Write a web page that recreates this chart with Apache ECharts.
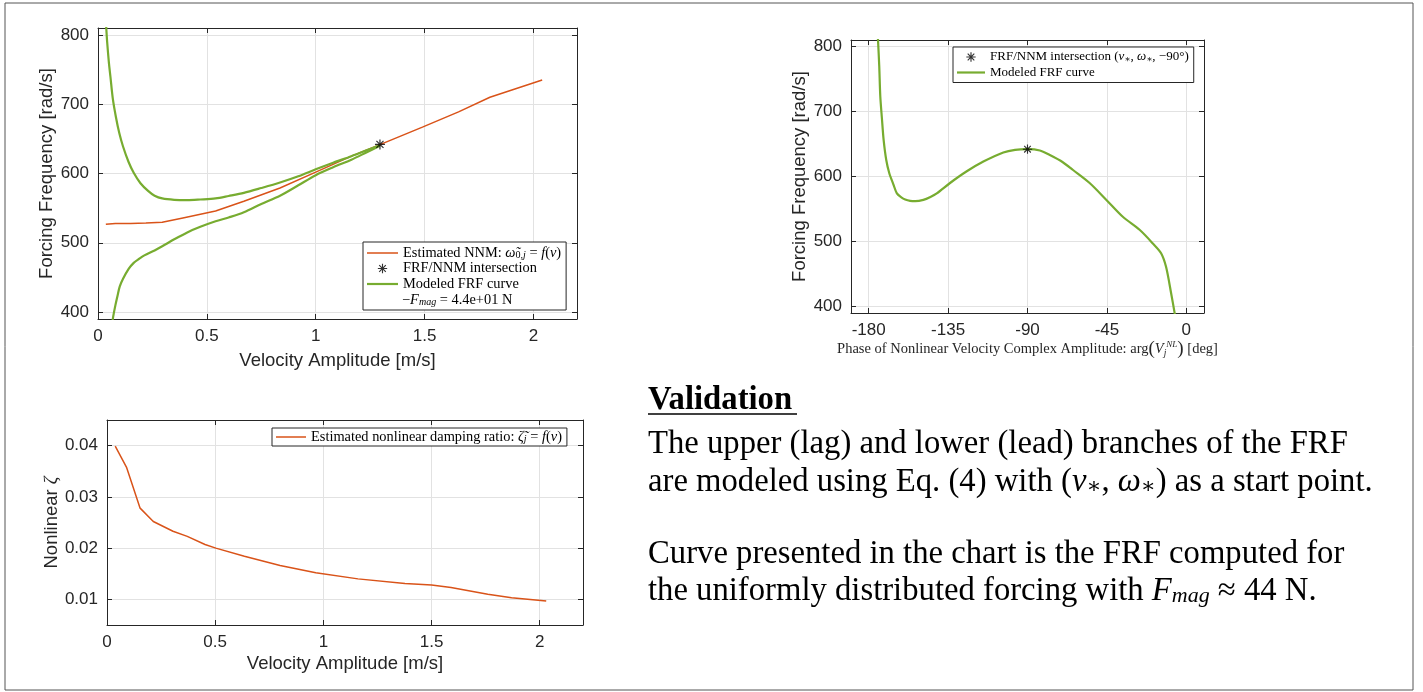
<!DOCTYPE html>
<html>
<head>
<meta charset="utf-8">
<script src="https://cdn.jsdelivr.net/npm/echarts@6/dist/echarts.min.js"></script>
<style>
  html, body { margin: 0; padding: 0; background: #fff; }
  #chart { width: 1423px; height: 692px; }
</style>
</head>
<body>
<div id="chart"></div>
<script>
// ---- Estimated NNM backbone: forcing frequency vs velocity amplitude ----
const nnmVelocity  = [0.036, 0.08, 0.15, 0.22, 0.295, 0.39, 0.54, 0.67, 0.836, 1.0, 1.164, 1.295, 1.49, 1.656, 1.8, 2.04];
const nnmFrequency = [526.6, 528, 528, 528.5, 529.6, 535.8, 545.8, 560, 579, 602, 625, 641.7, 667, 689, 710, 735];

// ---- Modeled FRF, upper (lag) branch ----
const frfUpperVelocity  = [0.034, 0.038, 0.042, 0.05, 0.057, 0.068, 0.082, 0.098, 0.115, 0.14, 0.164, 0.195, 0.23, 0.26, 0.295, 0.35, 0.41, 0.47, 0.54, 0.6, 0.67, 0.75, 0.836, 0.92, 1.0, 1.08, 1.164, 1.23, 1.295];
const frfUpperFrequency = [830, 810, 790, 760, 740, 708, 682, 658, 639, 617, 601, 586, 575, 568, 564, 562, 561.6, 562.5, 564, 567.5, 572, 579, 587, 596, 606, 615.5, 625, 633, 641];

// ---- Modeled FRF, lower (lead) branch ----
const frfLowerVelocity  = [0.064, 0.069, 0.08, 0.09, 0.1, 0.115, 0.14, 0.164, 0.19, 0.213, 0.26, 0.295, 0.35, 0.41, 0.47, 0.54, 0.6, 0.67, 0.75, 0.836, 0.92, 1.0, 1.08, 1.164, 1.23, 1.295];
const frfLowerFrequency = [380, 392, 410, 424, 437, 448, 462, 471, 477, 481.8, 489, 495, 505, 515, 523, 531, 536.5, 544, 556, 568, 583, 597.6, 609, 620, 630, 640];

// ---- FRF / NNM intersection point (v*, w*) ----
const crossVelocity  = [1.295];
const crossFrequency = [642];
const crossPhase     = [-90];

// ---- Modeled FRF against phase of the nonlinear velocity amplitude ----
const phaseDeg       = [-175.5, -174.7, -174, -173.4, -172.5, -171.5, -170, -168.3, -166, -164, -161.5, -159.3, -156.5, -153.6, -149, -145, -141.4, -133.9, -124.4, -115, -103.7, -97, -90, -83, -77.4, -70, -64.2, -54.8, -45.3, -36, -26.5, -19, -14.3, -11.5, -8.6, -6.7, -6];
const phaseFrequency = [850, 810, 770, 723, 690, 656, 625, 605, 588, 574, 568, 564.6, 562.5, 562, 564, 568.5, 574, 590, 608, 623, 637, 641, 642, 640, 633, 622, 610, 590, 564, 538, 518, 497, 482, 461, 420, 391, 380];

// ---- Estimated nonlinear damping ratio vs velocity amplitude ----
const dampVelocity = [0.038, 0.091, 0.153, 0.214, 0.305, 0.371, 0.453, 0.503, 0.635, 0.8, 0.965, 1.16, 1.377, 1.5, 1.59, 1.76, 1.87, 2.03];
const dampRatio    = [0.0399, 0.0357, 0.0278, 0.0252, 0.0233, 0.0223, 0.0207, 0.0200, 0.0184, 0.0166, 0.0152, 0.0140, 0.0131, 0.0128, 0.0123, 0.0110, 0.0103, 0.0097];

// ---- Tick labels ----
const velocityTicks  = [0, 0.5, 1, 1.5, 2];
const frequencyTicks = [400, 500, 600, 700, 800];
const phaseTicks     = [-180, -135, -90, -45, 0];
const dampTicks      = [0.01, 0.02, 0.03, 0.04];

// ---- Text block on the right ----
const noteTitle = 'Validation';
const noteLines = [
  'The upper (lag) and lower (lead) branches of the FRF',
  'are modeled using Eq. (4) with ({i|v}{u|∗}, {i|ω}{u|∗}) as a start point.',
  '',
  'Curve presented in the chart is the FRF computed for',
  'the uniformly distributed forcing with {i|F}{s|mag} ≈ 44 N.'
];

const RED = '#D95319';
const GREEN = '#77AC30';
const AX = '#262626';
const GRIDC = '#e2e2e2';
const SANS = '"Liberation Sans", Arial, Helvetica, sans-serif';
const SERIF = '"Liberation Serif", "DejaVu Serif", serif';

// MATLAB-style asterisk marker (padded so the arms fill ~2/3 of the symbol box)
const ASTERISK = 'path://M-15,-15M15,15' +
  'M-1.2,-10L1.2,-10L1.2,10L-1.2,10Z' +
  'M-10,-1.2L10,-1.2L10,1.2L-10,1.2Z' +
  'M-6.22,-7.92L7.92,6.22L6.22,7.92L-7.92,-6.22Z' +
  'M-7.92,6.22L6.22,-7.92L7.92,-6.22L-6.22,7.92Z';
// Plain line swatch for legend entries of line series (no marker)
const lineIcon = (w, t) => `path://M0,0M${w},14M0,${7 - t / 2}L${w},${7 - t / 2}L${w},${7 + t / 2}L0,${7 + t / 2}Z`;

const zip = (a, b) => a.map((v, k) => [v, b[k]]);

function mainAxis(gridIndex, position, min, max, ticks, name, nameGap, nameStyle) {
  return {
    type: 'value', gridIndex, position, min, max,
    axisLine: { show: true, onZero: false, lineStyle: { color: AX, width: 1 } },
    axisTick: { show: true, inside: true, length: 5, customValues: ticks, lineStyle: { color: AX, width: 1 } },
    axisLabel: { customValues: ticks, color: AX, fontSize: 17, fontFamily: SANS, margin: 9 },
    splitLine: { show: true, lineStyle: { color: GRIDC, width: 1 } },
    name, nameLocation: 'middle', nameGap,
    nameTextStyle: Object.assign({ color: AX, fontSize: 18.5, fontFamily: SANS }, nameStyle || {})
  };
}
function mirrorAxis(gridIndex, position, min, max, ticks) {
  return {
    type: 'value', gridIndex, position, min, max,
    axisLine: { show: true, onZero: false, lineStyle: { color: AX, width: 1 } },
    axisTick: { show: true, inside: true, length: 5, customValues: ticks, lineStyle: { color: AX, width: 1 } },
    axisLabel: { show: false, customValues: ticks },
    splitLine: { show: false }
  };
}

function mathRich(size) {
  return {
    i: { fontFamily: SERIF, fontStyle: 'italic', fontSize: size, color: '#000' },
    s: { fontFamily: SERIF, fontStyle: 'italic', fontSize: size * 0.7, lineHeight: 8, verticalAlign: 'bottom', color: '#000' },
    u: { fontFamily: SERIF, fontSize: size * 0.7, lineHeight: 8, verticalAlign: 'bottom', color: '#000' }
  };
}
const legendLabels = {
  'Estimated NNM': 'Estimated NNM: {i|ω̃}{u|0,}{s|j} = {i|f}({i|v})',
  'FRF/NNM intersection': 'FRF/NNM intersection',
  'Modeled FRF curve': 'Modeled FRF curve',
  'Intersection phase': 'FRF/NNM intersection ({i|v}{u|∗}, {i|ω}{u|∗}, −90°)',
  'Modeled FRF phase': 'Modeled FRF curve',
  'Estimated damping': 'Estimated nonlinear damping ratio: {i|ζ̃}{s|j} = {i|f}({i|v})'
};
function makeLegend(left, top, data, padding, itemWidth, fontSize) {
  return {
    orient: 'vertical', left, top, padding,
    data: data.map(d => d.line ? { name: d.name, icon: lineIcon(itemWidth, d.line) } : { name: d.name }),
    itemWidth, itemHeight: 14, itemGap: 1.5,
    backgroundColor: '#fff', borderColor: AX, borderWidth: 1, borderRadius: 0,
    selectedMode: false,
    formatter: name => legendLabels[name],
    textStyle: { fontFamily: SERIF, fontSize, color: '#000', lineHeight: 14, rich: mathRich(fontSize) }
  };
}

const bodyRich = {
  i: { fontFamily: SERIF, fontStyle: 'italic', fontSize: 32.7, fill: '#000' },
  s: { fontFamily: SERIF, fontStyle: 'italic', fontSize: 22, lineHeight: 22, verticalAlign: 'bottom', fill: '#000' },
  u: { fontFamily: SERIF, fontSize: 22, lineHeight: 22, verticalAlign: 'bottom', fill: '#000' }
};
const bodyY = [444, 482, 518, 554, 591];

const graphic = [
  { type: 'rect', silent: true, z: 0, shape: { x: 5, y: 3, width: 1408, height: 687 },
    style: { fill: 'none', stroke: '#555', lineWidth: 1 } },
  { type: 'text', x: 402, y: 300, silent: true, z: 100, zlevel: 1,
    style: { text: '−{i|F}{s|mag} = 4.4e+01 N', fontFamily: SERIF, fontSize: 14.4, fill: '#000', verticalAlign: 'middle',
             rich: { i: { fontFamily: SERIF, fontStyle: 'italic', fontSize: 14.4, fill: '#000' },
                     s: { fontFamily: SERIF, fontStyle: 'italic', fontSize: 10, lineHeight: 8, verticalAlign: 'bottom', fill: '#000' } } } },
  { type: 'text', x: 648, y: 401, silent: true,
    style: { text: noteTitle, fontFamily: SERIF, fontWeight: 'bold', fontSize: 32.7, fill: '#000', verticalAlign: 'middle' } },
  { type: 'line', silent: true, shape: { x1: 648, y1: 414, x2: 797, y2: 414 },
    style: { stroke: '#000', lineWidth: 1.6 } }
];
noteLines.forEach((line, k) => {
  if (!line) return;
  graphic.push({ type: 'text', x: 648, y: bodyY[k], silent: true,
    style: { text: line, fontFamily: SERIF, fontSize: 32.7, fill: '#000', verticalAlign: 'middle', rich: bodyRich } });
});

const option = {
  animation: false,
  backgroundColor: '#fff',
  grid: [
    { left: 98,  top: 28,  width: 479, height: 291 },
    { left: 851, top: 40,  width: 353, height: 273 },
    { left: 107, top: 420, width: 476, height: 205 }
  ],
  xAxis: [
    mainAxis(0, 'bottom', 0, 2.2, velocityTicks, 'Velocity Amplitude [m/s]', 32),
    mirrorAxis(0, 'top', 0, 2.2, velocityTicks),
    mainAxis(1, 'bottom', -190, 10, phaseTicks,
      'Phase of Nonlinear Velocity Complex Amplitude: arg{b|(}{i|V}{s|j}{p|NL}{b|)} [deg]', 25,
      { fontFamily: SERIF, fontSize: 14.5, color: AX,
        rich: {
          i: { fontFamily: SERIF, fontStyle: 'italic', fontSize: 14.5, color: AX },
          s: { fontFamily: SERIF, fontStyle: 'italic', fontSize: 9.5, lineHeight: 6, verticalAlign: 'bottom', color: AX },
          p: { fontFamily: SERIF, fontStyle: 'italic', fontSize: 9, lineHeight: 9, verticalAlign: 'top', color: AX },
          b: { fontFamily: SERIF, fontSize: 19, color: AX }
        } }),
    mirrorAxis(1, 'top', -190, 10, phaseTicks),
    mainAxis(2, 'bottom', 0, 2.2, velocityTicks, 'Velocity Amplitude [m/s]', 29),
    mirrorAxis(2, 'top', 0, 2.2, velocityTicks)
  ],
  yAxis: [
    mainAxis(0, 'left', 390, 810, frequencyTicks, 'Forcing Frequency [rad/s]', 39),
    mirrorAxis(0, 'right', 390, 810, frequencyTicks),
    mainAxis(1, 'left', 390, 810, frequencyTicks, 'Forcing Frequency [rad/s]', 34),
    mirrorAxis(1, 'right', 390, 810, frequencyTicks),
    mainAxis(2, 'left', 0.005, 0.045, dampTicks, 'Nonlinear {z|ζ}', 42,
      { rich: { z: { fontFamily: SERIF, fontStyle: 'italic', fontSize: 19, color: AX } } }),
    mirrorAxis(2, 'right', 0.005, 0.045, dampTicks)
  ],
  legend: [
    makeLegend(363, 242, [{ name: 'Estimated NNM', line: 1.5 }, { name: 'FRF/NNM intersection' }, { name: 'Modeled FRF curve', line: 2.2 }], [4, 5, 19, 4], 31, 14.4),
    makeLegend(953, 47, [{ name: 'Intersection phase' }, { name: 'Modeled FRF phase', line: 2.2 }], [3, 5, 3, 4], 28, 13),
    makeLegend(272, 428, [{ name: 'Estimated damping', line: 1.5 }], [2, 5, 2, 4], 30, 14.4)
  ],
  series: [
    { name: 'Estimated NNM', type: 'line', xAxisIndex: 0, yAxisIndex: 0,
      data: zip(nnmVelocity, nnmFrequency), symbol: 'none', color: RED,
      lineStyle: { color: RED, width: 1.5 }, z: 2 },
    { name: 'Modeled FRF curve', type: 'line', xAxisIndex: 0, yAxisIndex: 0,
      data: zip(frfUpperVelocity, frfUpperFrequency), symbol: 'none', color: GREEN,
      smooth: 0.3, lineStyle: { color: GREEN, width: 2.2 }, z: 3 },
    { name: 'Modeled FRF curve', type: 'line', xAxisIndex: 0, yAxisIndex: 0,
      data: zip(frfLowerVelocity, frfLowerFrequency), symbol: 'none', color: GREEN,
      smooth: 0.3, lineStyle: { color: GREEN, width: 2.2 }, z: 3 },
    { name: 'FRF/NNM intersection', type: 'scatter', xAxisIndex: 0, yAxisIndex: 0,
      data: zip(crossVelocity, crossFrequency), symbol: ASTERISK, symbolSize: 15,
      itemStyle: { color: '#000' }, z: 5 },
    { name: 'Modeled FRF phase', type: 'line', xAxisIndex: 2, yAxisIndex: 2,
      data: zip(phaseDeg, phaseFrequency), symbol: 'none', color: GREEN,
      smooth: 0.3, lineStyle: { color: GREEN, width: 2.2 }, z: 3 },
    { name: 'Intersection phase', type: 'scatter', xAxisIndex: 2, yAxisIndex: 2,
      data: zip(crossPhase, crossFrequency), symbol: ASTERISK, symbolSize: 14,
      itemStyle: { color: '#000' }, z: 5 },
    { name: 'Estimated damping', type: 'line', xAxisIndex: 4, yAxisIndex: 4,
      data: zip(dampVelocity, dampRatio), symbol: 'none', color: RED,
      lineStyle: { color: RED, width: 1.5 }, z: 2 }
  ],
  graphic
};

const chart = echarts.init(document.getElementById('chart'), null, { renderer: 'canvas' });
chart.setOption(option);
</script>
</body>
</html>
